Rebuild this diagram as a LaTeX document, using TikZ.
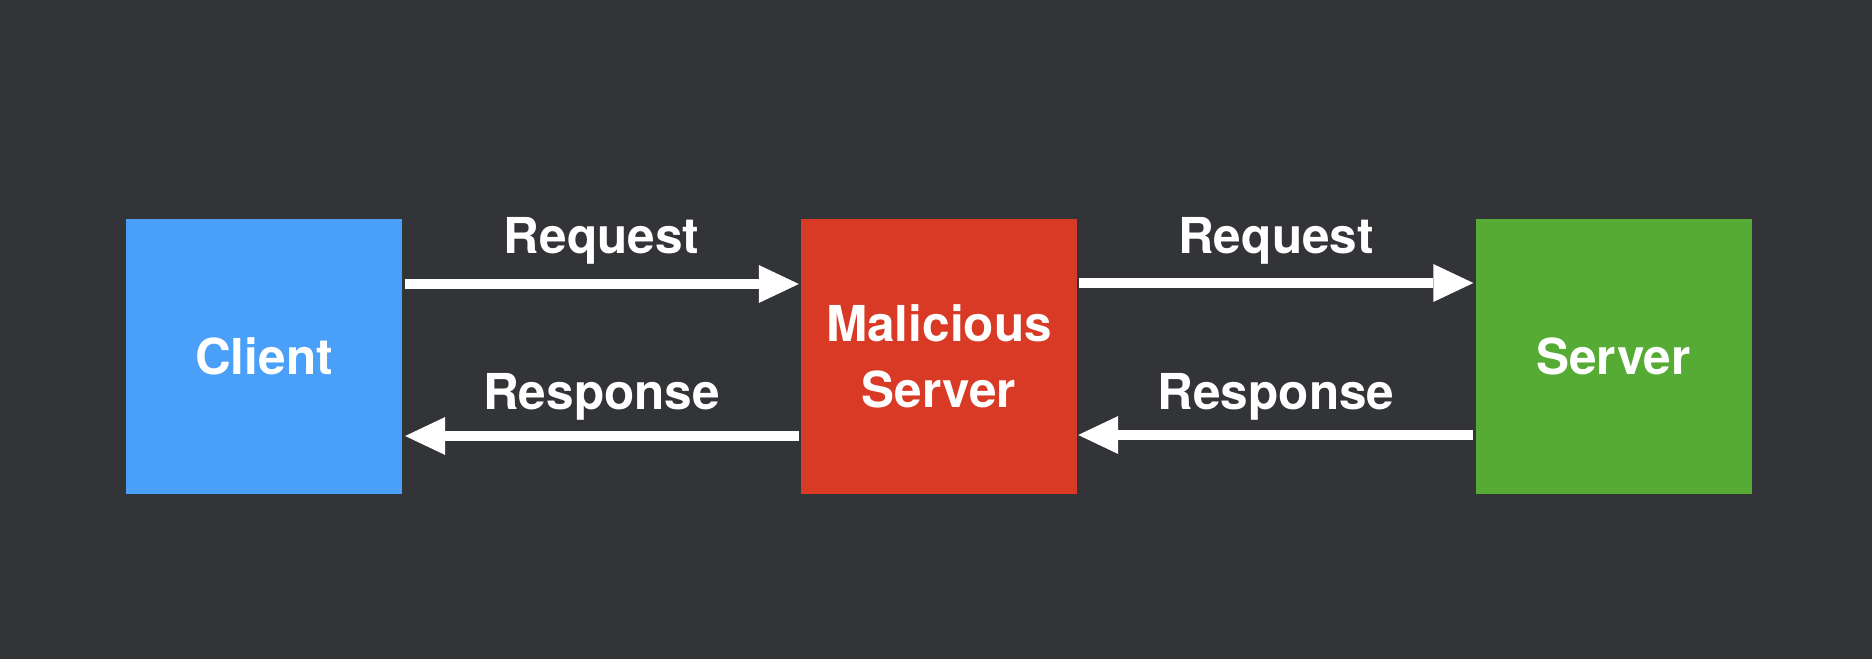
\documentclass[tikz,border=0pt]{standalone}
\usepackage{fontspec}
\setmainfont{TeX Gyre Heros}
\usetikzlibrary{arrows.meta}
\definecolor{bgc}{HTML}{333438}
\definecolor{bluec}{HTML}{4AA0F9}
\definecolor{redc}{HTML}{D93A25}
\definecolor{greenc}{HTML}{55AB33}
\tikzset{
  boxnode/.style={rectangle, minimum width=276pt, minimum height=275pt, inner sep=0pt,
    text=white, font=\fontsize{49.5}{66}\selectfont\bfseries, align=center},
  lbl/.style={anchor=base, text=white, inner sep=0pt, font=\fontsize{49.5}{66}\selectfont\bfseries},
  conn/.style={draw=white, line width=10pt, -{Triangle[length=40pt,width=38pt,line width=0pt]}}
}
\begin{document}
\begin{tikzpicture}[x=1pt,y=-1pt]
\fill[bgc] (0,0) rectangle (1872,659);
\useasboundingbox (0,0) rectangle (1872,659);
\node[boxnode, fill=bluec] (client) at (264,356.5) {Client};
\node[boxnode, fill=redc] (mal) at (939,356.5) {Malicious\\Server};
\node[boxnode, fill=greenc] (server) at (1613.5,356.5) {Server};
\node[lbl] (req1) at (601.5,253) {Request};
\node[lbl] (res1) at (601.5,409) {Response};
\node[lbl] (req2) at (1276,253) {Request};
\node[lbl] (res2) at (1276,409) {Response};
\draw[conn] ([xshift=3pt,yshift=72.5pt]client.east) -- ([xshift=-2pt,yshift=72.5pt]mal.west);
\draw[conn] ([xshift=-2pt,yshift=-79.5pt]mal.west) -- ([xshift=3pt,yshift=-79.5pt]client.east);
\draw[conn] ([xshift=2pt,yshift=73.5pt]mal.east) -- ([xshift=-2pt,yshift=73.5pt]server.west);
\draw[conn] ([xshift=-2pt,yshift=-78.5pt]server.west) -- ([xshift=1pt,yshift=-78.5pt]mal.east);
\end{tikzpicture}
\end{document}
